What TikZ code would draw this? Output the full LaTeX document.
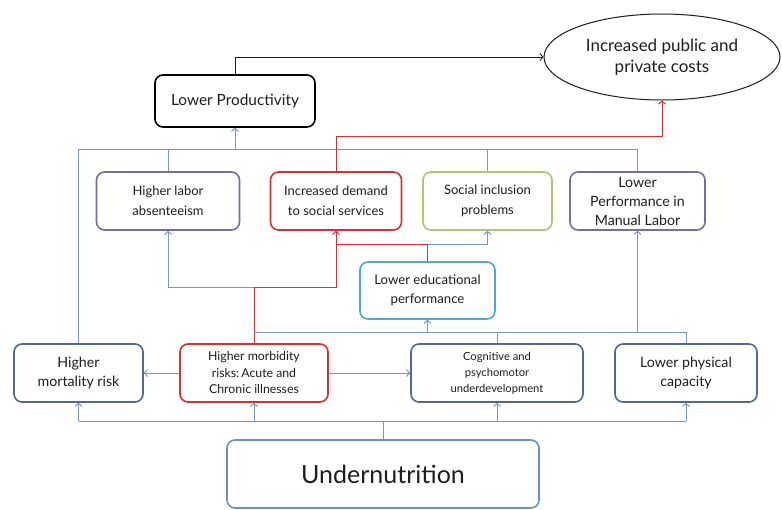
\documentclass[tikz,border=0pt]{standalone}
\usepackage{fontspec}
\setmainfont{Lato}
\usetikzlibrary{arrows.meta,shapes.geometric,calc}
\definecolor{linecol}{RGB}{120,150,200}
\definecolor{redcol}{RGB}{225,45,45}
\definecolor{purpcol}{RGB}{115,110,165}
\definecolor{greencol}{RGB}{170,200,110}
\definecolor{tealcol}{RGB}{75,172,198}
\definecolor{navycol}{RGB}{80,105,145}
\definecolor{undercol}{RGB}{105,145,200}
\definecolor{txtcol}{RGB}{30,30,30}
\begin{document}
\begin{tikzpicture}[x=1pt,y=-1pt,
  box/.style={draw, rounded corners=8pt, line width=1.6pt, align=center, text=txtcol, inner sep=2pt},
  bl/.style={draw=linecol, line width=1pt},
  rd/.style={draw=redcol, line width=1pt},
  >={Straight Barb[length=3pt,width=7pt]}]
\useasboundingbox (0,0) rectangle (782,509);
\fill[white] (0,0) rectangle (782,509);
% nodes
\node[box, draw=black, minimum width=160pt, minimum height=52pt, font=\fontsize{15.4}{18}\selectfont] (prod) at (235,101) {Lower Productivity};
\node[draw=txtcol, line width=1pt, ellipse, minimum width=236pt, minimum height=86pt, align=center, text=txtcol, font=\fontsize{17}{21}\selectfont] (cost) at (662,57) {Increased public and\\private costs};
\node[box, draw=purpcol, minimum width=143pt, minimum height=58pt, font=\fontsize{13}{19.5}\selectfont] (absent) at (168,201) {Higher labor\\absenteeism};
\node[box, draw=redcol, minimum width=131pt, minimum height=58pt, font=\fontsize{13}{19.5}\selectfont] (demand) at (336,201) {Increased demand\\to social services};
\node[box, draw=greencol, minimum width=129pt, minimum height=58pt, font=\fontsize{13}{19.5}\selectfont] (social) at (487.5,201) {Social inclusion\\problems};
\node[box, draw=purpcol, minimum width=135pt, minimum height=58pt, font=\fontsize{14.2}{19}\selectfont] (manual) at (637.5,201) {Lower\\Performance in\\Manual Labor};
\node[box, draw=tealcol, minimum width=135pt, minimum height=57pt, font=\fontsize{13.2}{19.5}\selectfont] (edu) at (427.5,290.5) {Lower educational\\performance};
\node[box, draw=navycol, minimum width=129pt, minimum height=58pt, font=\fontsize{14.2}{19.5}\selectfont] (mort) at (78.5,373) {Higher\\mortality risk};
\node[box, draw=redcol, minimum width=148pt, minimum height=58pt, font=\fontsize{12.3}{16.5}\selectfont] (morb) at (254,373) {Higher morbidity\\risks:\,Acute and\\Chronic illnesses};
\node[box, draw=navycol, minimum width=172pt, minimum height=58pt, font=\fontsize{11.2}{16}\selectfont] (cog) at (497,373) {Cognitive and\\psychomotor\\underdevelopment};
\node[box, draw=navycol, minimum width=142pt, minimum height=58pt, font=\fontsize{14.2}{19.5}\selectfont] (phys) at (686,373) {Lower physical\\capacity};
\node[box, draw=undercol, minimum width=312pt, minimum height=68pt, font=\fontsize{25}{28}\selectfont] (under) at (383,474) {Undernutrition};
% black connector
\draw[draw=txtcol, line width=0.9pt, ->] (prod.north) |- (cost.west);
% top blue bus
\coordinate (t1) at (78.5,149);
\coordinate (t2) at (637.5,149);
\draw[bl] (mort.north) -- (t1) -- (t2) -- (manual.north);
\draw[bl] (absent.north) -- (absent.north |- t1);
\draw[bl] (social.north) -- (social.north |- t1);
\draw[bl,->] (prod.south |- t1) -- (prod.south);
% red to costs
\coordinate (r1) at (662,136);
\draw[rd,->] (demand.north) |- (r1) -- (cost.south);
% from morbidity
\coordinate (m1) at (254,287);
\draw[bl,->] (m1) -| (absent.south);
\draw[rd,->] (morb.north) -- (m1) -| (demand.south);
% from educational
\coordinate (e1) at (427.5,244);
\draw[bl,->] (e1) -| (social.south);
\draw[rd] (edu.north) -- (e1) -- (e1 -| demand.south);
% middle blue bus
\coordinate (b1) at (254,332);
\coordinate (b2) at (686,332);
\draw[bl] (b1) -- (b2) -- (phys.north);
\draw[bl] (cog.north) -- (cog.north |- b1);
\draw[bl,->] (edu.south |- b1) -- (edu.south);
\draw[bl,->] (manual.south |- b1) -- (manual.south);
% horizontal arrows
\draw[bl,->] (morb.west) -- (mort.east);
\draw[bl,->] (morb.east) -- (cog.west);
% bottom bus
\coordinate (u1) at (383,421);
\draw[bl] (under.north) -- (u1);
\draw[bl] (mort.south |- u1) -- (phys.south |- u1);
\draw[bl,->] (mort.south |- u1) -- (mort.south);
\draw[bl,->] (morb.south |- u1) -- (morb.south);
\draw[bl,->] (cog.south |- u1) -- (cog.south);
\draw[bl,->] (phys.south |- u1) -- (phys.south);
\end{tikzpicture}
\end{document}
